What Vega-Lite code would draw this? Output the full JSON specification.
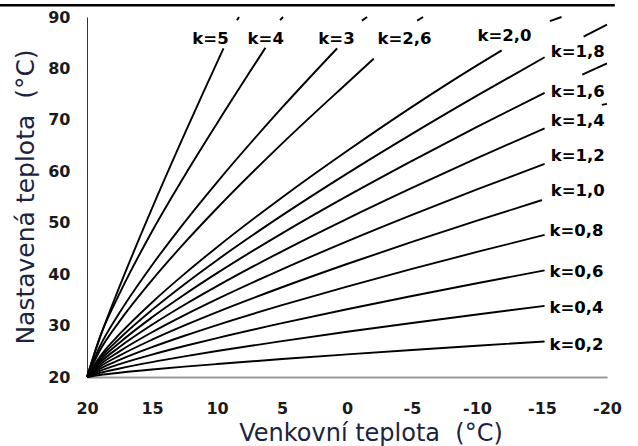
{
  "$schema": "https://vega.github.io/schema/vega-lite/v6.json",
  "width": 520,
  "height": 360,
  "autosize": {"type": "none"},
  "padding": {"left": 87, "top": 17, "right": 31, "bottom": 69},
  "background": "white",
  "config": {"view": {"stroke": null}},
  "datasets": {
    "curves": [
      {"k":"0,2","s":1,"x":20,"y":20},{"k":"0,2","s":1,"x":19,"y":20.4},{"k":"0,2","s":1,"x":17.5,"y":20.83},{"k":"0,2","s":1,"x":15,"y":21.45},{"k":"0,2","s":1,"x":12.5,"y":22.01},{"k":"0,2","s":1,"x":10,"y":22.52},{"k":"0,2","s":1,"x":5,"y":23.49},{"k":"0,2","s":1,"x":0,"y":24.39},{"k":"0,2","s":1,"x":-5,"y":25.25},{"k":"0,2","s":1,"x":-10,"y":26.08},{"k":"0,2","s":1,"x":-15.2,"y":26.91},
      {"k":"0,4","s":1,"x":20,"y":20},{"k":"0,4","s":1,"x":19,"y":20.8},{"k":"0,4","s":1,"x":17.5,"y":21.66},{"k":"0,4","s":1,"x":15,"y":22.9},{"k":"0,4","s":1,"x":12.5,"y":24.01},{"k":"0,4","s":1,"x":10,"y":25.05},{"k":"0,4","s":1,"x":5,"y":26.98},{"k":"0,4","s":1,"x":0,"y":28.79},{"k":"0,4","s":1,"x":-5,"y":30.51},{"k":"0,4","s":1,"x":-10,"y":32.16},{"k":"0,4","s":1,"x":-15.2,"y":33.82},
      {"k":"0,6","s":1,"x":20,"y":20},{"k":"0,6","s":1,"x":19,"y":21.2},{"k":"0,6","s":1,"x":17.5,"y":22.5},{"k":"0,6","s":1,"x":15,"y":24.35},{"k":"0,6","s":1,"x":12.5,"y":26.02},{"k":"0,6","s":1,"x":10,"y":27.57},{"k":"0,6","s":1,"x":5,"y":30.47},{"k":"0,6","s":1,"x":0,"y":33.18},{"k":"0,6","s":1,"x":-5,"y":35.76},{"k":"0,6","s":1,"x":-10,"y":38.24},{"k":"0,6","s":1,"x":-15.2,"y":40.72},
      {"k":"0,8","s":1,"x":20,"y":20},{"k":"0,8","s":1,"x":19,"y":21.6},{"k":"0,8","s":1,"x":17.5,"y":23.33},{"k":"0,8","s":1,"x":15,"y":25.8},{"k":"0,8","s":1,"x":12.5,"y":28.02},{"k":"0,8","s":1,"x":10,"y":30.1},{"k":"0,8","s":1,"x":5,"y":33.96},{"k":"0,8","s":1,"x":0,"y":37.58},{"k":"0,8","s":1,"x":-5,"y":41.01},{"k":"0,8","s":1,"x":-10,"y":44.32},{"k":"0,8","s":1,"x":-15.2,"y":47.63},
      {"k":"1,0","s":1,"x":20,"y":20},{"k":"1,0","s":1,"x":19,"y":22},{"k":"1,0","s":1,"x":17.5,"y":24.16},{"k":"1,0","s":1,"x":15,"y":27.25},{"k":"1,0","s":1,"x":12.5,"y":30.03},{"k":"1,0","s":1,"x":10,"y":32.62},{"k":"1,0","s":1,"x":5,"y":37.45},{"k":"1,0","s":1,"x":0,"y":41.97},{"k":"1,0","s":1,"x":-5,"y":46.27},{"k":"1,0","s":1,"x":-10,"y":50.39},{"k":"1,0","s":1,"x":-15,"y":54.4},
      {"k":"1,2","s":1,"x":20,"y":20},{"k":"1,2","s":1,"x":19,"y":22.4},{"k":"1,2","s":1,"x":17.5,"y":24.99},{"k":"1,2","s":1,"x":15,"y":28.7},{"k":"1,2","s":1,"x":12.5,"y":32.03},{"k":"1,2","s":1,"x":10,"y":35.14},{"k":"1,2","s":1,"x":5,"y":40.94},{"k":"1,2","s":1,"x":0,"y":46.37},{"k":"1,2","s":1,"x":-5,"y":51.52},{"k":"1,2","s":1,"x":-10,"y":56.47},{"k":"1,2","s":1,"x":-15.2,"y":61.45},
      {"k":"1,4","s":1,"x":20,"y":20},{"k":"1,4","s":1,"x":19,"y":22.8},{"k":"1,4","s":1,"x":17.5,"y":25.83},{"k":"1,4","s":1,"x":15,"y":30.15},{"k":"1,4","s":1,"x":12.5,"y":34.04},{"k":"1,4","s":1,"x":10,"y":37.67},{"k":"1,4","s":1,"x":5,"y":44.44},{"k":"1,4","s":1,"x":0,"y":50.76},{"k":"1,4","s":1,"x":-5,"y":56.77},{"k":"1,4","s":1,"x":-10,"y":62.55},{"k":"1,4","s":1,"x":-15.2,"y":68.36},
      {"k":"1,4","s":2,"x":-19.6,"y":72.9},{"k":"1,4","s":2,"x":-20,"y":73.1},
      {"k":"1,6","s":1,"x":20,"y":20},{"k":"1,6","s":1,"x":19,"y":23.2},{"k":"1,6","s":1,"x":17.5,"y":26.66},{"k":"1,6","s":1,"x":15,"y":31.6},{"k":"1,6","s":1,"x":12.5,"y":36.04},{"k":"1,6","s":1,"x":10,"y":40.19},{"k":"1,6","s":1,"x":5,"y":47.93},{"k":"1,6","s":1,"x":0,"y":55.16},{"k":"1,6","s":1,"x":-5,"y":62.03},{"k":"1,6","s":1,"x":-10,"y":68.63},{"k":"1,6","s":1,"x":-15.2,"y":75.26},
      {"k":"1,6","s":2,"x":-18.1,"y":78.8},{"k":"1,6","s":2,"x":-20,"y":81.0},
      {"k":"1,8","s":1,"x":20,"y":20},{"k":"1,8","s":1,"x":19,"y":23.6},{"k":"1,8","s":1,"x":17.5,"y":27.49},{"k":"1,8","s":1,"x":15,"y":33.05},{"k":"1,8","s":1,"x":12.5,"y":38.05},{"k":"1,8","s":1,"x":10,"y":42.72},{"k":"1,8","s":1,"x":5,"y":51.42},{"k":"1,8","s":1,"x":0,"y":59.55},{"k":"1,8","s":1,"x":-5,"y":67.28},{"k":"1,8","s":1,"x":-10,"y":74.71},{"k":"1,8","s":1,"x":-15.2,"y":82.17},
      {"k":"1,8","s":2,"x":-18.2,"y":86.2},{"k":"1,8","s":2,"x":-20,"y":88.5},
      {"k":"2,0","s":1,"x":20,"y":20},{"k":"2,0","s":1,"x":19,"y":24},{"k":"2,0","s":1,"x":17.5,"y":28.32},{"k":"2,0","s":1,"x":15,"y":34.5},{"k":"2,0","s":1,"x":12.5,"y":40.05},{"k":"2,0","s":1,"x":10,"y":45.24},{"k":"2,0","s":1,"x":5,"y":54.91},{"k":"2,0","s":1,"x":0,"y":63.94},{"k":"2,0","s":1,"x":-5,"y":72.53},{"k":"2,0","s":1,"x":-10,"y":80.6},{"k":"2,0","s":1,"x":-11.9,"y":83.5},
      {"k":"2,0","s":2,"x":-15.6,"y":89.2},{"k":"2,0","s":2,"x":-16.5,"y":90},
      {"k":"2,6","s":1,"x":20,"y":20},{"k":"2,6","s":1,"x":19,"y":25.2},{"k":"2,6","s":1,"x":17.5,"y":30.82},{"k":"2,6","s":1,"x":15,"y":38.84},{"k":"2,6","s":1,"x":12.5,"y":46.07},{"k":"2,6","s":1,"x":10,"y":52.81},{"k":"2,6","s":1,"x":5,"y":65.38},{"k":"2,6","s":1,"x":0,"y":77.13},{"k":"2,6","s":1,"x":-2.06,"y":81.9},
      {"k":"2,6","s":2,"x":-5.4,"y":89.3},{"k":"2,6","s":2,"x":-5.85,"y":90},
      {"k":"3","s":1,"x":20,"y":20},{"k":"3","s":1,"x":19,"y":26},{"k":"3","s":1,"x":17.5,"y":32.49},{"k":"3","s":1,"x":15,"y":41.74},{"k":"3","s":1,"x":12.5,"y":50.08},{"k":"3","s":1,"x":10,"y":57.86},{"k":"3","s":1,"x":5,"y":72.36},{"k":"3","s":1,"x":0.76,"y":83.9},
      {"k":"3","s":2,"x":-1.15,"y":89.3},{"k":"3","s":2,"x":-1.55,"y":90},
      {"k":"4","s":1,"x":20,"y":20},{"k":"4","s":1,"x":19,"y":27.8},{"k":"4","s":1,"x":17.5,"y":36.2},{"k":"4","s":1,"x":15,"y":48.3},{"k":"4","s":1,"x":12.5,"y":59.1},{"k":"4","s":1,"x":10,"y":69.3},{"k":"4","s":1,"x":6.28,"y":84.0},
      {"k":"4","s":2,"x":5.15,"y":89.4},{"k":"4","s":2,"x":4.92,"y":90},
      {"k":"5","s":1,"x":20,"y":20},{"k":"5","s":1,"x":19,"y":27.7},{"k":"5","s":1,"x":17.5,"y":37.56},{"k":"5","s":1,"x":15,"y":52.78},{"k":"5","s":1,"x":12.5,"y":67.21},{"k":"5","s":1,"x":11,"y":75.63},{"k":"5","s":1,"x":9.5,"y":83.9},
      {"k":"5","s":2,"x":8.47,"y":89.4},{"k":"5","s":2,"x":8.3,"y":90}
    ],
    "labels": [
      {"t":"k=5","x":10.5,"y":85.8},
      {"t":"k=4","x":6.25,"y":85.8},
      {"t":"k=3","x":0.81,"y":85.8},
      {"t":"k=2,6","x":-4.42,"y":85.8},
      {"t":"k=2,0","x":-12.12,"y":86.4},
      {"t":"k=1,8","x":-17.75,"y":83.1},
      {"t":"k=1,6","x":-17.75,"y":75.5},
      {"t":"k=1,4","x":-17.75,"y":69.7},
      {"t":"k=1,2","x":-17.75,"y":62.9},
      {"t":"k=1,0","x":-17.75,"y":56.1},
      {"t":"k=0,8","x":-17.65,"y":48.4},
      {"t":"k=0,6","x":-17.65,"y":40.5},
      {"t":"k=0,4","x":-17.65,"y":33.5},
      {"t":"k=0,2","x":-17.65,"y":26.2}
    ]
  },
  "layer": [
    {
      "data": {"name": "curves"},
      "mark": {"type": "line", "interpolate": "monotone", "color": "black"},
      "encoding": {
        "x": {
          "field": "x", "type": "quantitative",
          "scale": {"domain": [20, -20], "nice": false, "zero": false},
          "axis": {
            "title": "Venkovní teplota\u00a0\u00a0(°C)",
            "values": [20, 15, 10, 5, 0, -5, -10, -15, -20],
            "labelExpr": "'' + datum.value",
            "grid": false, "ticks": false,
            "domainColor": "#999999", "domainWidth": 2,
            "labelFont": "DejaVu Sans", "labelFontWeight": "bold", "labelFontSize": 16, "labelColor": "#1a1a1a",
            "labelPadding": 23, "labelFlush": false, "labelOverlap": false,
            "titleFont": "DejaVu Sans", "titleFontWeight": "normal", "titleFontSize": 24, "titleColor": "#1b2340",
            "titleX": 283.5, "titleY": 63, "titleBaseline": "alphabetic", "titleAlign": "center"
          }
        },
        "y": {
          "field": "y", "type": "quantitative",
          "scale": {"domain": [20, 90], "nice": false, "zero": false},
          "axis": {
            "title": "Nastavená teplota\u00a0\u00a0(°C)",
            "values": [20, 30, 40, 50, 60, 70, 80, 90],
            "grid": false, "ticks": false,
            "domainColor": "#333333", "domainWidth": 1,
            "labelFont": "DejaVu Sans", "labelFontWeight": "bold", "labelFontSize": 16, "labelColor": "#1a1a1a",
            "labelPadding": 17, "labelFlush": false, "labelOverlap": false,
            "titleFont": "DejaVu Sans", "titleFontWeight": "normal", "titleFontSize": 25, "titleColor": "#1b2340",
            "titleAngle": 270, "titleX": -54, "titleY": 179.5, "titleBaseline": "alphabetic", "titleAlign": "center"
          }
        },
        "detail": [{"field": "k"}, {"field": "s"}],
        "strokeWidth": {
          "field": "k", "type": "nominal", "legend": null,
          "scale": {
            "domain": ["0,2","0,4","0,6","0,8","1,0","1,2","1,4","1,6","1,8","2,0","2,6","3","4","5"],
            "range": [1.9,1.9,1.9,1.9,2.7,1.9,1.9,1.9,1.9,2.7,1.9,2.4,2.7,2.7]
          }
        }
      }
    },
    {
      "data": {"name": "labels"},
      "mark": {"type": "text", "font": "DejaVu Sans", "fontWeight": "bold", "fontSize": 16.5, "color": "black", "align": "center", "baseline": "middle"},
      "encoding": {
        "x": {"field": "x", "type": "quantitative"},
        "y": {"field": "y", "type": "quantitative"},
        "text": {"field": "t"}
      }
    },
    {
      "data": {"values": [{}]},
      "mark": {"type": "rule", "color": "black", "strokeWidth": 2.5, "clip": false},
      "encoding": {
        "x": {"datum": 26.7},
        "x2": {"datum": -20.6},
        "y": {"datum": 92.3}
      }
    }
  ]
}
